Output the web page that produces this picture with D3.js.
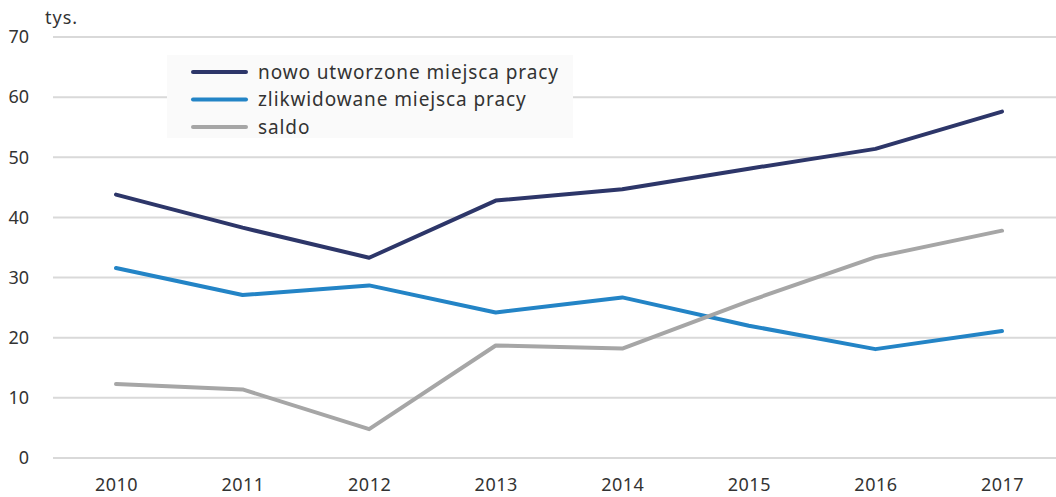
<!DOCTYPE html>
<html><head><meta charset="utf-8">
<script src="https://cdn.jsdelivr.net/npm/d3@7"></script>
<style>body{margin:0;background:#fff}svg{display:block}text{font-family:"Noto Sans",sans-serif;fill:#333}</style>
</head><body><svg id="c" width="1056" height="497"></svg>
<script>
const years = ["2010","2011","2012","2013","2014","2015","2016","2017"];
const nowo = [43.8, 38.3, 33.3, 42.8, 44.7, 48.1, 51.4, 57.6];
const zlikwidowane = [31.6, 27.1, 28.7, 24.2, 26.7, 22.0, 18.1, 21.1];
const saldo = [12.3, 11.4, 4.8, 18.7, 18.2, 26.1, 33.4, 37.8];
const yTicks = [0,10,20,30,40,50,60,70];
const seriesNames = ["nowo utworzone miejsca pracy","zlikwidowane miejsca pracy","saldo"];
const colors = ["#2d3669","#2384c6","#a6a6a6"];
const seriesData = [nowo, zlikwidowane, saldo];

const svg = d3.select("#c");
const x = d3.scalePoint().domain(years).range([116, 1002]);
const y = d3.scaleLinear().domain([0,70]).range([458, 37]);

// grid
svg.append("g").selectAll("line").data(yTicks).join("line")
  .attr("x1", 53).attr("x2", 1056)
  .attr("y1", d=>y(d)).attr("y2", d=>y(d))
  .attr("stroke", "#d9d9d9").attr("stroke-width", 2);

// y axis labels
const yAxis = d3.axisLeft(y).tickValues(yTicks).tickSize(0).tickPadding(0);
const gy = svg.append("g").attr("transform","translate(29,0)").call(yAxis);
gy.select(".domain").remove();
gy.selectAll("text").style("font-size","18px").attr("fill","#333").attr("font-family","Noto Sans");

// x axis labels
const xAxis = d3.axisBottom(x).tickSize(0).tickPadding(0);
const gx = svg.append("g").attr("transform","translate(0,478)").call(xAxis);
gx.select(".domain").remove();
gx.selectAll("text").style("font-size","18px").style("letter-spacing","0.5px").attr("fill","#333").attr("font-family","Noto Sans");

svg.append("text").attr("x",45).attr("y",24).style("font-size","18px").style("letter-spacing","1px").text("tys.");

// legend box
svg.append("rect").attr("x",167).attr("y",55).attr("width",406).attr("height",83).attr("fill","#fafafa");

// lines
const line = d3.line().x((d,i)=>x(years[i])).y(d=>y(d));
seriesData.forEach((s,k)=>{
  svg.append("path").datum(s).attr("d", line).attr("fill","none")
    .attr("stroke", colors[k]).attr("stroke-width",4)
    .attr("stroke-linecap","round").attr("stroke-linejoin","round");
});

// legend entries
const lg = svg.append("g");
seriesNames.forEach((n,k)=>{
  const yy = 72 + k*27.5;
  lg.append("line").attr("x1",193).attr("x2",246).attr("y1",yy).attr("y2",yy)
    .attr("stroke",colors[k]).attr("stroke-width",4).attr("stroke-linecap","round");
  lg.append("text").attr("x",258).attr("y",yy).attr("dy","0.35em").style("font-size","19px").style("letter-spacing","0.9px").text(n);
});
</script></body></html>
